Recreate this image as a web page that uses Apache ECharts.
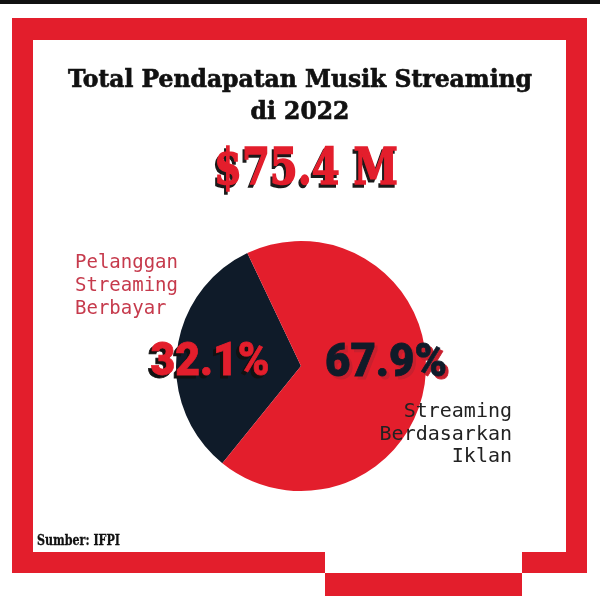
<!DOCTYPE html>
<html><head><meta charset="utf-8">
<script src="https://cdn.jsdelivr.net/npm/echarts@6/dist/echarts.min.js"></script>
<style>html,body{margin:0;padding:0;background:#fff}#c{width:600px;height:602px}</style>
</head><body><div id="c"></div>
<script>
const categories = ['Pelanggan Streaming Berbayar', 'Streaming Berdasarkan Iklan'];
const categoryLines = [['Pelanggan', 'Streaming', 'Berbayar'], ['Streaming', 'Berdasarkan', 'Iklan']];
const shares = [32.1, 67.9];
const totalLabel = '$75.4 M';
const titleLines = ['Total Pendapatan Musik Streaming', 'di 2022'];
const sourceText = 'Sumber: IFPI';

const RED = '#e31e2c';
const DARK = '#0f1b29';
const sliceColors = [DARK, RED];

const chart = echarts.init(document.getElementById('c'), null, {renderer: 'canvas'});

const serif = '"DejaVu Serif", serif';
const mono = '"DejaVu Sans Mono", monospace';
const heavy = 'Roboto, "Noto Sans", sans-serif';

const mctx = document.createElement('canvas').getContext('2d');
function fit(text, font, target) { mctx.font = font; return target / mctx.measureText(text).width; }

function txt(text, x, y, font, fill, align, targetW, strokeW, z) {
  const sx = targetW ? fit(text, font, targetW) : 1;
  const style = {text: text, textAlign: align, textVerticalAlign: 'middle', font: font, fill: fill};
  if (strokeW) { style.stroke = fill; style.lineWidth = strokeW; }
  return {type: 'text', x: x, y: y, scaleX: sx, z: z || 10, style: style};
}
function shadowed(text, x, y, font, fill, shadow, dx, dy, targetW, strokeW) {
  return [
    txt(text, x + dx, y + dy, font, shadow, 'center', targetW, strokeW, 10),
    txt(text, x, y, font, fill, 'center', targetW, strokeW, 11)
  ];
}

const titleFont = 'bold 25px ' + serif;
const titleScale = fit(titleLines[0], titleFont, 464);
const t1 = txt(titleLines[0], 300, 80, titleFont, '#111', 'center', 0, 0.7);
const t2 = txt(titleLines[1], 300, 112, titleFont, '#111', 'center', 0, 0.7);
t1.scaleX = titleScale; t2.scaleX = titleScale;

const graphics = [
  {type: 'rect', shape: {x: 0, y: 0, width: 600, height: 4}, style: {fill: '#111'}},
  {type: 'rect', shape: {x: 12, y: 18, width: 575, height: 22}, style: {fill: RED}},
  {type: 'rect', shape: {x: 12, y: 18, width: 21, height: 555}, style: {fill: RED}},
  {type: 'rect', shape: {x: 566, y: 18, width: 21, height: 555}, style: {fill: RED}},
  {type: 'rect', shape: {x: 12, y: 552, width: 313, height: 21}, style: {fill: RED}},
  {type: 'rect', shape: {x: 522, y: 552, width: 65, height: 21}, style: {fill: RED}},
  {type: 'rect', shape: {x: 325, y: 573, width: 197, height: 23}, style: {fill: RED}},
  t1, t2,
  txt(sourceText, 37, 541, 'bold 14px ' + serif, '#111', 'left', 83, 0.3)
].concat(
  shadowed(totalLabel, 306, 171, 'bold 50px ' + serif, RED, '#1a1a1a', -2, 3, 184, 1.6),
  shadowed(shares[0].toFixed(1) + '%', 210, 363, '900 46px ' + heavy, RED, '#111', -3, 3, 119, 0.8),
  shadowed(shares[1].toFixed(1) + '%', 386, 364, '900 46px ' + heavy, DARK, '#c8202e', 3, 3, 122, 0.8)
);
categoryLines[0].forEach((t, i) => graphics.push({type: 'text', x: 75, y: 263 + i * 23, z: 10, style: {text: t, textAlign: 'left', textVerticalAlign: 'middle', font: '19px ' + mono, fill: '#c63a4c'}}));
categoryLines[1].forEach((t, i) => graphics.push({type: 'text', x: 512, y: 412 + i * 22.5, z: 10, style: {text: t, textAlign: 'right', textVerticalAlign: 'middle', font: '20px ' + mono, fill: '#222'}}));

chart.setOption({
  animation: false,
  backgroundColor: '#fff',
  series: [{
    type: 'pie',
    center: [301, 366],
    radius: 125,
    startAngle: 231,
    clockwise: true,
    silent: true,
    label: {show: false},
    labelLine: {show: false},
    emphasis: {disabled: true},
    data: categories.map((name, i) => ({name: name, value: shares[i], itemStyle: {color: sliceColors[i]}}))
  }],
  graphic: graphics
});
</script>
</body></html>
